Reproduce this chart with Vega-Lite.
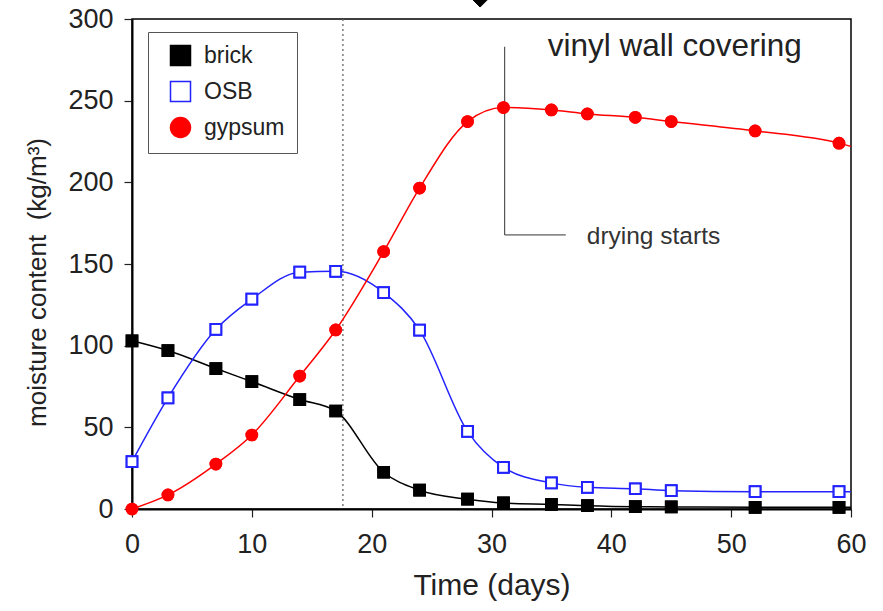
{
  "$schema": "https://vega.github.io/schema/vega-lite/v6.json",
  "autosize": "none",
  "width": 719,
  "height": 490,
  "padding": {"left": 132, "top": 19, "right": 32, "bottom": 102},
  "background": "white",
  "config": {
    "view": {"stroke": "black", "strokeWidth": 1.5},
    "font": "Liberation Sans",
    "axis": {
      "grid": false,
      "domainColor": "black",
      "domainWidth": 2,
      "tickColor": "#222",
      "tickWidth": 1.2,
      "tickSize": 8,
      "labelColor": "#222",
      "labelFontSize": 27,
      "labelFlush": false,
      "labelFont": "Liberation Sans",
      "titleFont": "Liberation Sans",
      "titleColor": "#222",
      "titleFontWeight": "normal"
    }
  },
  "datasets": {
    "mc": [
      {"series": "brick", "day": 0, "mc": 103},
      {"series": "brick", "day": 3, "mc": 97},
      {"series": "brick", "day": 7, "mc": 86},
      {"series": "brick", "day": 10, "mc": 78},
      {"series": "brick", "day": 14, "mc": 67},
      {"series": "brick", "day": 17, "mc": 60},
      {"series": "brick", "day": 21, "mc": 22.5},
      {"series": "brick", "day": 24, "mc": 11.5},
      {"series": "brick", "day": 28, "mc": 6},
      {"series": "brick", "day": 31, "mc": 3.7},
      {"series": "brick", "day": 35, "mc": 2.8},
      {"series": "brick", "day": 38, "mc": 2},
      {"series": "brick", "day": 42, "mc": 1.4},
      {"series": "brick", "day": 45, "mc": 1.3},
      {"series": "brick", "day": 52, "mc": 1},
      {"series": "brick", "day": 59, "mc": 1},
      {"series": "brick", "day": 60, "mc": 1},
      {"series": "OSB", "day": 0, "mc": 29},
      {"series": "OSB", "day": 3, "mc": 68},
      {"series": "OSB", "day": 7, "mc": 110},
      {"series": "OSB", "day": 10, "mc": 128.5},
      {"series": "OSB", "day": 14, "mc": 145},
      {"series": "OSB", "day": 17, "mc": 145.5},
      {"series": "OSB", "day": 21, "mc": 132.5},
      {"series": "OSB", "day": 24, "mc": 109.5},
      {"series": "OSB", "day": 28, "mc": 47.5},
      {"series": "OSB", "day": 31, "mc": 25.5},
      {"series": "OSB", "day": 35, "mc": 16},
      {"series": "OSB", "day": 38, "mc": 13.3},
      {"series": "OSB", "day": 42, "mc": 12.4},
      {"series": "OSB", "day": 45, "mc": 11.2},
      {"series": "OSB", "day": 52, "mc": 10.6},
      {"series": "OSB", "day": 59, "mc": 10.6},
      {"series": "OSB", "day": 60, "mc": 10.6},
      {"series": "gypsum", "day": 0, "mc": 0},
      {"series": "gypsum", "day": 3, "mc": 8.6},
      {"series": "gypsum", "day": 7, "mc": 27.5},
      {"series": "gypsum", "day": 10, "mc": 45.3},
      {"series": "gypsum", "day": 14, "mc": 81.4},
      {"series": "gypsum", "day": 17, "mc": 109.6},
      {"series": "gypsum", "day": 21, "mc": 157.6},
      {"series": "gypsum", "day": 24, "mc": 196.5},
      {"series": "gypsum", "day": 28, "mc": 237.2},
      {"series": "gypsum", "day": 31, "mc": 245.8},
      {"series": "gypsum", "day": 35, "mc": 244.3},
      {"series": "gypsum", "day": 38, "mc": 241.9},
      {"series": "gypsum", "day": 42, "mc": 239.8},
      {"series": "gypsum", "day": 45, "mc": 237.2},
      {"series": "gypsum", "day": 52, "mc": 231.5},
      {"series": "gypsum", "day": 59, "mc": 224},
      {"series": "gypsum", "day": 60, "mc": 222}
    ],
    "bracket": [
      {"x": 31.1, "y": 283, "x2": 31.1, "y2": 167.8},
      {"x": 31.1, "y": 167.8, "x2": 36.2, "y2": 167.8}
    ],
    "notes": [
      {"label": "vinyl wall covering", "x": 34.7, "y": 283}
    ],
    "notes2": [
      {"label": "drying starts", "x": 37.95, "y": 166.7}
    ],
    "markers": [
      {"day": 17.6}
    ],
    "corner": [
      {"day": 29.05, "mc": 311.6}
    ]
  },
  "layer": [
    {
      "data": {"name": "markers"},
      "mark": {"type": "rule", "color": "#666", "strokeWidth": 1.3, "strokeDash": [2, 3]},
      "encoding": {"x": {"field": "day", "type": "quantitative"}}
    },
    {
      "data": {"name": "bracket"},
      "mark": {"type": "rule", "color": "#333", "strokeWidth": 1},
      "encoding": {
        "x": {"field": "x", "type": "quantitative"},
        "x2": {"field": "x2"},
        "y": {"field": "y", "type": "quantitative"},
        "y2": {"field": "y2"}
      }
    },
    {
      "data": {"name": "notes"},
      "mark": {"type": "text", "align": "left", "baseline": "middle", "fontSize": 31.5, "color": "#222", "font": "Liberation Sans"},
      "encoding": {
        "x": {"field": "x", "type": "quantitative"},
        "y": {"field": "y", "type": "quantitative"},
        "text": {"field": "label"}
      }
    },
    {
      "data": {"name": "notes2"},
      "mark": {"type": "text", "align": "left", "baseline": "middle", "fontSize": 24.5, "color": "#333", "font": "Liberation Sans"},
      "encoding": {
        "x": {"field": "x", "type": "quantitative"},
        "y": {"field": "y", "type": "quantitative"},
        "text": {"field": "label"}
      }
    },
    {
      "data": {"name": "mc"},
      "transform": [{"filter": "datum.day < 60"}],
      "mark": {"type": "point", "filled": false, "opacity": 1, "strokeWidth": 2, "size": 115},
      "encoding": {
        "x": {"field": "day", "type": "quantitative",
              "scale": {"domain": [0, 60], "nice": false},
              "axis": {"values": [0, 10, 20, 30, 40, 50, 60], "title": "Time (days)", "titleFontSize": 30, "labelPadding": 14, "titlePadding": 13}},
        "y": {"field": "mc", "type": "quantitative",
              "scale": {"domain": [0, 300], "nice": false},
              "axis": {"values": [0, 50, 100, 150, 200, 250, 300], "title": "moisture content\u00a0 (kg/m³)", "titleFontSize": 26, "labelPadding": 11, "titleX": -95, "titleY": 263, "titleBaseline": "middle", "titleAlign": "center", "titleAngle": -90}},
        "color": {"field": "series", "type": "nominal",
                  "scale": {"domain": ["brick", "OSB", "gypsum"], "range": ["#000000", "#2323ff", "#ff0000"]},
                  "legend": {
                    "title": null,
                    "orient": "none",
                    "legendX": 16,
                    "legendY": 13,
                    "padding": 12,
                    "strokeColor": "#555",
                    "fillColor": "white",
                    "symbolSize": 400,
                    "symbolStrokeWidth": 1.5,
                    "symbolOffset": 9,
                    "labelOffset": 12,
                    "labelFontSize": 23,
                    "labelColor": "#222",
                    "labelFont": "Liberation Sans",
                    "rowPadding": 9,
                    "encode": {
                      "symbols": {
                        "shape": {"value": {"expr": "datum.value === 'gypsum' ? 'M-1.83,0H1.83M-0.6,0A0.6,0.6 0 1,0 0.6,0A0.6,0.6 0 1,0 -0.6,0Z' : 'M-1.83,0H-0.5M0.5,0H1.83M-0.5,-0.5H0.5V0.5H-0.5Z'"}}
                      }
                    }
                  }},
        "fill": {"field": "series", "type": "nominal",
                 "scale": {"domain": ["brick", "OSB", "gypsum"], "range": ["#000000", "#ffffff", "#ff0000"]}},
        "shape": {"field": "series", "type": "nominal",
                  "scale": {"domain": ["brick", "OSB", "gypsum"], "range": ["square", "square", "circle"]}}
      }
    },
    {
      "data": {"name": "mc"},
      "mark": {"type": "line", "interpolate": "monotone", "strokeWidth": 1.5},
      "encoding": {
        "x": {"field": "day", "type": "quantitative"},
        "y": {"field": "mc", "type": "quantitative"},
        "color": {"field": "series", "type": "nominal"}
      }
    },
    {
      "data": {"name": "mc"},
      "transform": [{"filter": "datum.day < 60"}],
      "mark": {"type": "point", "filled": false, "opacity": 1, "strokeWidth": 2, "size": 115},
      "encoding": {
        "x": {"field": "day", "type": "quantitative"},
        "y": {"field": "mc", "type": "quantitative"},
        "color": {"field": "series", "type": "nominal"},
        "fill": {"field": "series", "type": "nominal"},
        "shape": {"field": "series", "type": "nominal"}
      }
    },
    {
      "data": {"name": "corner"},
      "mark": {"type": "point", "shape": "diamond", "filled": true, "fill": "black", "stroke": "black", "strokeWidth": 1, "size": 196, "opacity": 1},
      "encoding": {
        "x": {"field": "day", "type": "quantitative"},
        "y": {"field": "mc", "type": "quantitative"}
      }
    }
  ]
}
